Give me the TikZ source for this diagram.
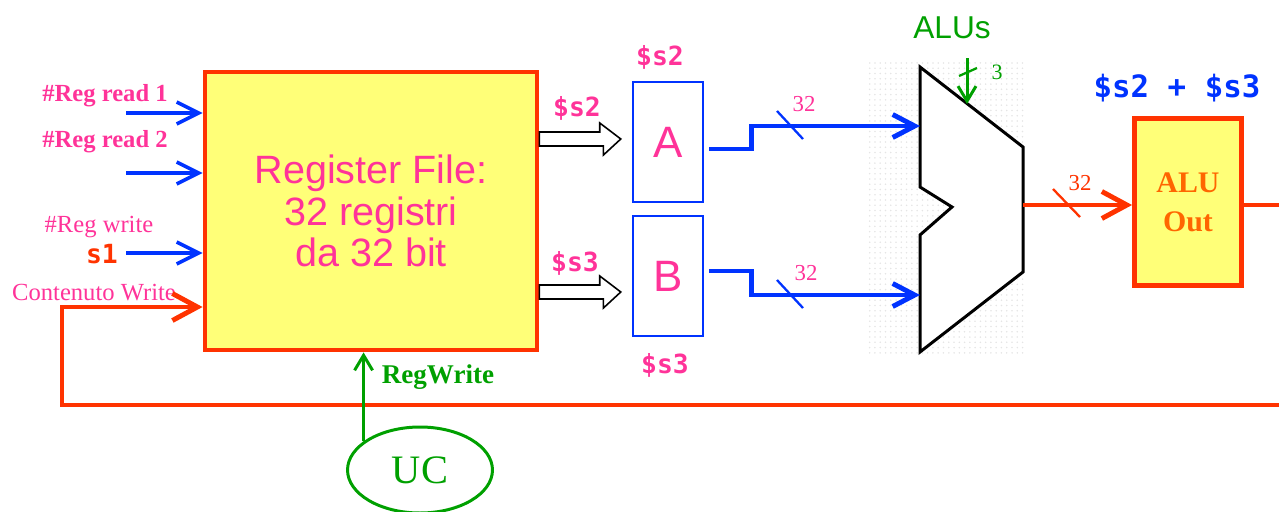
\documentclass[tikz,border=0pt]{standalone}
\usepackage{fontspec}
\setmainfont{Liberation Serif}
\setsansfont{Liberation Sans}
\setmonofont{DejaVu Sans Mono}
\usepackage{tikz}
\definecolor{sigpink}{RGB}{255, 51, 153}
\definecolor{sigred}{RGB}{255, 51, 0}
\definecolor{sigblue}{RGB}{0, 51, 255}
\definecolor{siggreen}{RGB}{0, 160, 0}
\definecolor{regyellow}{RGB}{255, 255, 120}
\definecolor{outorange}{RGB}{255, 102, 0}
\usetikzlibrary{arrows.meta, calc, shapes.geometric, patterns}
\newcommand{\fsz}[2]{\fontsize{#1}{#2}\selectfont}

\begin{document}
\begin{tikzpicture}[
    x=0.02cm, y=-0.02cm,
    every node/.append style={inner sep=0pt},
  ]

  \tikzset{
    reg-file/.style={
      draw=sigred, fill=regyellow, line width=2.8pt,
      minimum width=6.64cm, minimum height=5.56cm,
      align=center, text=sigpink, font=\sffamily\fsz{22.5pt}{23.5pt},
    },
    reg-box/.style={
      draw=sigblue, line width=1.4pt,
      minimum width=1.4cm, minimum height=2.4cm,
      text=sigpink, font=\sffamily\fsz{25pt}{25pt},
    },
    out-box/.style={
      draw=sigred, fill=regyellow, line width=2.8pt,
      minimum width=2.14cm, minimum height=3.34cm,
      align=center, text=outorange, font=\bfseries\fsz{17pt}{22pt},
    },
    uc-node/.style={
      ellipse, draw=siggreen, line width=1.7pt,
      minimum width=2.9cm, minimum height=1.72cm,
      text=siggreen, font=\fsz{23pt}{23pt},
    },
    bus-in/.style={
      -{Straight Barb[length=0.44cm, width=0.44cm]},
      line width=2pt, color=sigblue,
    },
    bus/.style={
      -{Straight Barb[length=0.44cm, width=0.46cm]},
      line width=2.8pt, color=sigblue,
    },
    bus-red/.style={
      -{Straight Barb[length=0.5cm, width=0.54cm]},
      line width=2.8pt, color=sigred,
    },
    bus-tick/.style={line width=1.3pt},
    hollow-arrow/.style={draw=black, fill=white, line width=0.9pt},
    alu-body/.style={draw=black, fill=white, line width=1.7pt, line join=miter},
    ctl-arrow/.style={
      -{Straight Barb[length=0.3cm, width=0.36cm]},
      line width=1.7pt, color=siggreen,
    },
    lbl-bold/.style={text=sigpink, font=\bfseries\fsz{14pt}{14pt}},
    lbl-plain/.style={text=sigpink, font=\fsz{14pt}{14pt}},
    reg-name/.style={font=\ttfamily\bfseries\fsz{15pt}{15pt}},
    bus-width/.style={font=\fsz{13pt}{13pt}},
  }

  \useasboundingbox (0, 0) rectangle (1279, 511);

  %% ---------------- REGISTER FILE ----------------
  \node[reg-file] (regfile) at (371, 211)
    {Register File:\\32 registri\\da 32 bit};
  % register numbers in
  \coordinate (rd1-in) at (126, 113);
  \coordinate (rd2-in) at (126, 173);
  \coordinate (wr-in) at (126, 253);
  \draw[bus-in] (rd1-in) -- (rd1-in -| regfile.west);
  \draw[bus-in] (rd2-in) -- (rd2-in -| regfile.west);
  \draw[bus-in] (wr-in) -- (wr-in -| regfile.west);
  \node[lbl-bold] (rd1-lbl) at (105, 96) {\#Reg read 1};
  \node[lbl-bold] (rd2-lbl) at (105, 142) {\#Reg read 2};
  \node[lbl-plain] (wr-lbl) at (99, 227) {\#Reg write};
  \node[reg-name, text=sigred] (s1-lbl) at (102, 254) {s1};
  \node[lbl-plain] (data-lbl) at (94, 293) {Contenuto Write};

  %% ---------------- A / B REGISTERS ----------------
  \node[reg-box] (rega) at (668, 142) {A};
  \node[reg-box] (regb) at (668, 276) {B};
  \node[reg-name, text=sigpink] (rega-lbl) at (660, 57) {\$s2};
  \node[reg-name, text=sigpink] (regb-lbl) at (665, 365) {\$s3};
  % fat arrows from register file
  \coordinate (s2-tip) at ($(rega.west)+(-11, -3)$);
  \coordinate (s3-tip) at ($(regb.west)+(-11, 16)$);
  \draw[hollow-arrow] (s2-tip) -- ++(-21, -16) -- ++(0, 9)
    -- ($(regfile.east |- s2-tip)+(0, -7)$) -- ++(0, 14) -- ++(64, 0)
    -- ++(0, 9) -- cycle;
  \draw[hollow-arrow] (s3-tip) -- ++(-21, -16) -- ++(0, 9)
    -- ($(regfile.east |- s3-tip)+(0, -7)$) -- ++(0, 14) -- ++(64, 0)
    -- ++(0, 9) -- cycle;
  \node[reg-name, text=sigpink] (s2-lbl) at (577, 108) {\$s2};
  \node[reg-name, text=sigpink] (s3-lbl) at (575, 263) {\$s3};

  %% ---------------- ALU ----------------
  \fill[pattern=dots, pattern color=black!10] (866, 60) rectangle (1025, 356);
  \draw[alu-body] (920, 67) -- (1023, 147) -- (1023, 272) -- (920, 352)
    -- (920, 235) -- (952, 207) -- (920, 187) -- cycle;
  \coordinate (alu-in-a) at (920, 126);
  \coordinate (alu-in-b) at (920, 295);
  \coordinate (alu-out) at (1023, 205);
  \coordinate (alu-op) at (967, 58);
  \coordinate (alu-ctl) at (967, 104);
  \node[text=siggreen, font=\sffamily\fsz{18pt}{18pt}] (alu-lbl) at (952, 28) {ALUs};
  % operation select
  \draw[ctl-arrow] (alu-op) -- (alu-ctl);
  \draw[bus-tick, siggreen] (959, 76) -- (977, 68);
  \node[text=siggreen, font=\fsz{12.5pt}{12.5pt}] (op-width) at (997, 72) {3};
  % operand buses
  \draw[bus] ($(rega.east)+(5, 7)$) -- ++(42, 0) |- (alu-in-a);
  \draw[bus] ($(regb.east)+(5, -5)$) -- ++(42, 0) |- (alu-in-b);
  \draw[bus-tick, sigblue] (777, 111) -- (803, 139);
  \draw[bus-tick, sigblue] (777, 280) -- (803, 308);
  \node[bus-width, text=sigpink] (a-width) at (804, 104) {32};
  \node[bus-width, text=sigpink] (b-width) at (806, 273) {32};

  %% ---------------- ALU OUT ----------------
  \node[out-box] (aluout) at (1188, 202) {ALU\\Out};
  \node[reg-name, text=sigblue, font=\ttfamily\bfseries\fsz{17.5pt}{17.5pt}]
    (sum-lbl) at (1177, 88) {\$s2 + \$s3};
  \draw[bus-red] (alu-out) -- (alu-out -| aluout.west);
  \draw[bus-tick, sigred] (1053, 189) -- (1080, 217);
  \node[bus-width, text=sigred] (out-width) at (1080, 183) {32};
  \coordinate (out-end) at (1279, 205);
  \draw[line width=2.8pt, sigred] (aluout.east |- out-end) -- (out-end);

  %% ---------------- WRITE BACK ----------------
  \coordinate (fb-in) at (1279, 405);
  \coordinate (fb-corner) at (62, 405);
  \draw[bus-red] (fb-in) -- (fb-corner) |- (regfile.west |- 0, 307);

  %% ---------------- CONTROL UNIT ----------------
  \node[uc-node] (uc) at (420, 470) {UC};
  \draw[ctl-arrow] (uc.153) -- (uc.153 |- regfile.south);
  \node[text=siggreen, font=\bfseries\fsz{15.4pt}{15.4pt}] (regwrite-lbl)
    at (438, 377) {RegWrite};

\end{tikzpicture}
\end{document}
